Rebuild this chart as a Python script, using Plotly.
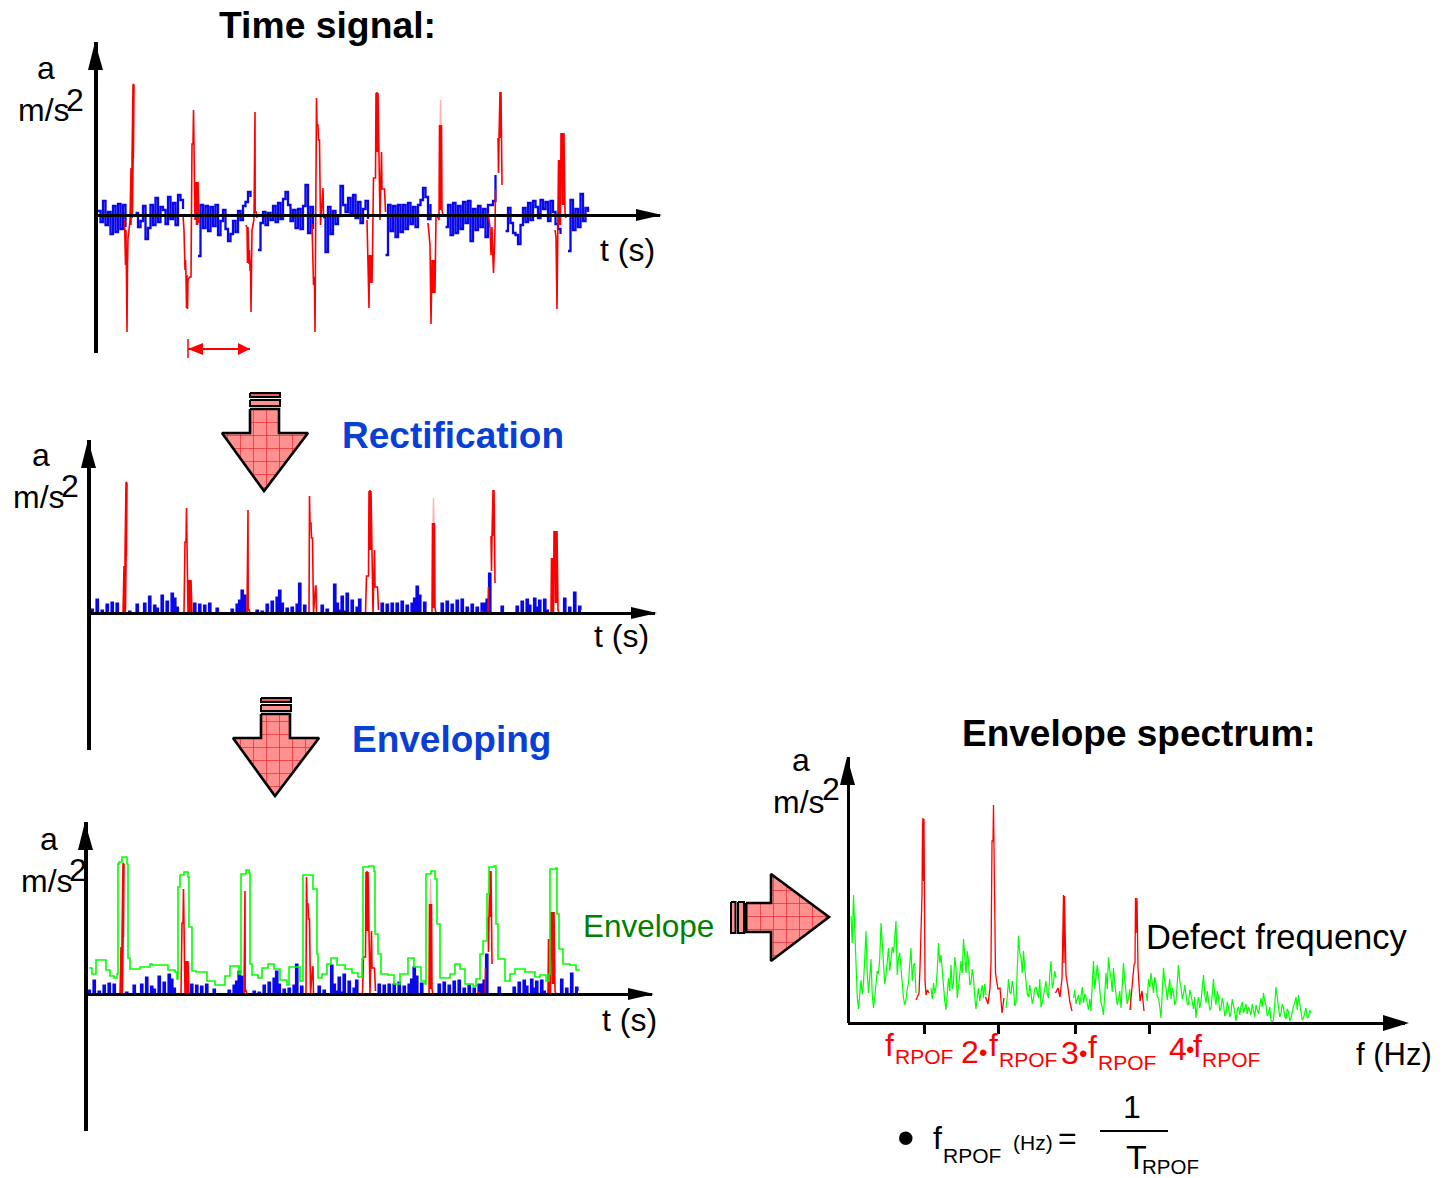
import numpy as np
import plotly.graph_objects as go

W, H = 1451, 1178
FONT = "Liberation Sans"

# Time signal: background noise sampled every 0.25 s from t = 0.2 (None = hidden by an impulse)
noise_a = [0.4,-0.7,1.4,-1.0,0.3,-1.9,0.9,-1.7,1.1,-1.4,1.0,-1.2,None,None,None,
           0.2,-1.2,-0.6,0.9,-2.4,-1.3,1.0,-1.0,1.7,-0.7,0.8,0.5,-0.9,1.8,-0.4,1.2,-1.0,2.0,1.5,0.6,
           None,None,None,None,None,-4.1,
           1.0,-1.3,0.9,-1.6,0.8,-1.1,1.0,-2.0,-0.6,0.5,-1.4,-2.6,-1.9,-0.6,-1.7,0.4,-0.5,0.9,1.3,2.3,
           1.8,None,None,-3.5,-0.8,0.3,-1.0,0.2,-0.5,0.9,-0.7,1.2,-0.4,1.6,2.3,1.0,-0.6,0.5,-1.3,0.6,
           -1.4,0.9,3.0,-1.8,0.8,-1.4,None,None,None,-0.2,-3.7,0.8,-1.9,0.4,-0.9,-0.1,2.9,1.0,0.3,1.7,
           0.2,2.0,-0.3,1.3,-0.8,0.6,1.4,-0.4,None,None,None,None,None,None,-4.0,1.0,-1.6,0.9,-2.2,
           1.0,-1.7,1.0,-1.4,1.2,-0.9,0.8,-1.2,1.0,1.5,2.7,1.8,-0.4,1.1,None,None,None,None,None,
           -1.2,1.0,-2.0,1.2,-1.8,0.9,-1.4,1.3,-0.8,1.4,-2.6,0.6,-1.5,0.9,-1.2,0.6,-2.2,1.0,1.0,1.4,4.0,
           None,None,None,-1.6,0.7,-0.8,-1.8,-2.0,-2.9,-1.0,0.7,-0.7,1.2,-0.5,1.4,0.8,-0.3,1.5,0.6,1.3,
           -0.6,1.4,0.3,-0.9,-1.4,-1.9,None,None,-3.6,1.5,-1.5,0.6,-1.2,2.1,-0.6,0.7,0.3]

# Time signal: bearing-fault impulses
impulse_t = [2.85,2.9,2.95,3.0,3.05,3.1,3.15,3.2,3.3,3.4,3.5,3.5,3.6,3.6,3.7,3.72,3.76,3.74,3.8,3.75,3.65,3.62,None,
             8.7,8.8,8.85,8.9,8.95,9.0,9.05,9.1,9.15,9.2,9.35,9.5,9.6,9.7,9.75,9.8,9.9,10.0,10.05,10.1,10.15,10.2,10.3,None,
             15.0,15.1,15.15,15.2,15.3,15.35,15.4,15.45,15.5,15.55,15.6,15.7,15.75,15.8,15.9,15.92,16.0,16.1,None,
             21.6,21.7,21.75,21.8,21.85,21.9,21.95,22.0,22.05,22.1,22.2,22.25,22.35,22.45,22.65,22.7,22.75,None,
             27.1,27.2,27.3,27.35,27.4,27.45,27.5,27.55,27.6,27.65,27.75,27.9,27.95,28.0,28.05,28.1,28.15,28.2,28.3,28.4,28.55,28.6,28.85,28.9,28.95,None,
             33.2,33.4,33.5,33.6,33.7,33.75,33.8,33.85,33.9,33.95,34.0,34.1,34.3,34.35,34.4,34.45,34.5,34.55,34.6,34.7,None,
             39.2,39.4,39.5,39.6,39.7,39.75,39.9,39.95,None,40.2,40.25,40.3,40.4,40.45,40.5,40.55,40.6,None,
             45.9,46.0,46.1,46.2,46.25,46.3,46.4,46.45,46.5,46.55,46.6,46.65,46.7,46.75,46.8,46.9,47.0]
impulse_a = [-0.5,-2,-5,-1.5,-4.8,-11.7,-5,-2.3,-1.5,-0.5,4.7,-1,4.7,5.6,13,5.7,13.1,5.7,13,5.6,0.5,-0.3,None,
             0,-1.5,-3.5,-5.5,-4.5,-6,-9.3,-6,-9.4,-6.5,-6.2,-6.2,7.1,7.1,10.5,7,-0.5,3.3,-1,3.3,-1,3.3,-0.8,None,
             -1.0,-1.3,-4.8,-1.2,-4.9,-3.5,-5.6,-4.5,-9.7,-5.0,-1.5,-1.0,-0.5,-0.3,10.3,0.2,0.4,-0.3,None,
             -0.9,-6.2,-7,-6.2,-7,-11.7,-3,0,11.7,9,9,7.5,7.5,-1,2.7,2.7,0,None,
             -0.5,-4,-9.3,-4,-6.8,-4,-6.8,-4,-6.8,-4,3.7,3.7,3.7,12.2,6.3,12.3,6.3,12.2,6.3,-0.5,6.3,2.6,2.6,0.5,0.3,None,
             -0.8,-3,-10.9,-4.5,-7.8,-4.5,-7.8,-4.5,-7.8,-4.5,0,0,-0.5,9,0.5,9,0.5,9,0.5,0,None,
             0.2,-1.2,-4,-1.2,-4.5,-5.8,-1.5,2.6,None,7.7,4.2,7.7,12.3,7.7,12.3,7.7,3,None,
             -1.5,-2.2,-9.4,-2.2,5.5,-1,5.5,-1,8.2,5.5,8.2,1,8.2,1,8.2,0.3,-0.3]
faint_t = [34.4,34.45,34.5]
faint_a = [9,11.5,9]

# Envelope of the rectified signal
envelope_t = [0.3,0.6,1.0,1.7,2.0,2.4,2.8,3.1,3.2,3.3,3.6,4.1,4.2,4.4,5.4,6.4,6.6,7.9,8.2,8.9,9.1,9.2,9.4,9.8,10.2,10.3,10.6,11.0,11.7,12.1,12.9,13.9,14.4,
              15.1,15.3,15.5,16.0,16.3,16.4,16.6,17.2,17.6,18.2,18.8,19.4,20.1,20.3,21.1,21.4,21.7,22.5,22.7,23.1,23.2,23.6,24.1,24.5,25.1,25.9,26.6,27.2,27.5,
              27.6,27.7,28.3,28.8,28.9,29.2,29.5,30.2,30.8,31.4,32.2,32.8,33.5,33.9,34.0,34.5,34.9,35.1,35.4,36.4,36.9,37.4,37.9,38.7,39.0,39.4,39.7,40.1,40.3,40.8,41.0,41.2,41.9,42.4,42.9,43.9,44.9,45.4,46.0,46.3,46.4,47.0,47.1,47.3,47.7,48.4,49.0,49.3]
envelope_a = [2.6,2.0,3.4,3.4,2.4,1.8,1.6,2.0,13.0,13.2,13.7,13.0,3.6,2.5,2.7,3.0,2.9,2.9,2.4,2.2,1.5,10.7,11.9,12.2,11.7,6.7,2.3,2.2,2.2,1.3,0.9,1.8,2.8,
              2.8,2.0,12.0,12.4,12.1,3.0,1.9,1.6,2.6,3.0,2.5,1.4,0.9,2.7,2.7,1.3,11.9,11.9,10.5,4.0,1.6,2.0,3.0,3.6,2.9,2.5,2.1,1.7,1.7,
              3.5,12.7,12.8,12.3,6.0,4.0,2.0,1.9,1.0,2.0,3.6,2.7,1.3,1.0,12.0,12.3,11.5,7.0,1.6,2.0,3.0,2.5,1.0,0.8,1.5,4.0,5.3,10.0,12.7,12.8,7.0,3.5,1.3,2.0,2.5,2.2,1.7,1.9,1.3,2.0,12.5,12.6,8.0,4.5,3.0,2.9,2.4,2.3]

# Envelope spectrum: broadband floor, two interleaved reads at 0.25 Hz spacing from f = 0.3
floor_a = [10.7,12.8,6.0,1.4,4.3,4.0,9.2,3.0,6.4,1.5,3.8,4.9,10.0,6.0,4.8,7.5,6.2,7.0,10.2,6.5,5.5,2.5,2.3,4.0,7.5,5.8,3.0,
           None,None,None,None,None,3.5,4.0,3.6,8.0,6.8,3.5,1.3,4.5,5.8,4.0,5.5,3.5,6.2,8.4,5.0,6.2,4.0,4.5,1.4,3.5,3.0,2.5,2.8,
           None,None,None,None,None,None,None,1.5,4.4,2.9,3.5,2.0,8.7,6.6,7.2,4.0,2.6,3.0,2.5,3.6,2.5,1.6,2.8,4.2,2.5,6.2,4.0,4.5,
           None,None,None,None,None,None,2.5,1.9,2.8,2.5,2.0,2.6,1.3,1.2,6.2,4.5,4.8,2.0,0.8,5.0,6.6,4.5,5.5,3.0,2.4,1.5,6.0,3.0,2.5,1.3,
           None,None,None,None,None,3.0,4.4,5.0,3.0,4.0,2.5,0.5,5.5,3.5,3.6,2.4,3.0,2.2,5.8,3.6,2.9,3.0,1.8,2.8,1.4,0.5,2.6,2.2,4.8,2.0,2.4,
           1.4,4.4,1.8,2.6,1.5,1.9,1.0,1.6,1.0,1.9,0.2,1.6,1.7,1.0,1.9,1.6,0.8,1.3,1.8,0.9,2.5,3.0,1.8,1.0,0.2,0.3,3.6,1.8,1.0,1.5,0.4,1.1,0.5,1.7,2.6,2.8,1.0,0.5,1.5,0.6,1.0]
floor_mid_a = [8.0,9.5,2.6,3.2,2.9,6.5,5.0,4.6,2.8,2.6,5.2,6.5,7.8,3.9,6.3,5.2,7.6,8.3,4.8,7.0,3.6,1.8,3.4,5.9,4.2,6.0,None,
               None,None,None,None,None,2.4,3.0,5.2,6.0,5.0,2.2,3.0,3.2,3.4,6.6,2.5,4.8,5.0,6.5,7.2,3.8,5.4,2.6,2.6,2.2,3.8,3.9,None,
               None,None,None,None,None,None,None,2.6,3.1,4.2,1.7,5.6,7.0,5.0,5.5,2.9,3.8,1.9,3.4,3.1,4.4,2.0,3.6,2.9,4.8,3.5,5.2,None,
               None,None,None,None,None,None,3.3,2.4,1.8,3.6,2.9,1.8,2.4,3.9,3.4,5.8,3.1,1.6,2.9,3.4,5.3,3.1,4.0,1.8,3.2,3.8,4.3,1.9,3.4,None,
               None,None,None,None,None,2.2,3.6,3.9,4.6,2.6,1.6,3.1,4.1,2.3,4.4,3.5,1.8,4.0,4.2,2.4,3.8,1.9,3.3,2.0,2.6,1.9,1.5,3.5,2.9,3.2,1.3,
               3.1,2.7,3.2,1.2,2.5,0.7,2.1,0.6,2.4,1.1,1.3,0.8,2.1,1.5,0.9,1.2,1.9,0.6,1.4,1.7,1.6,2.2,0.7,1.6,0.1,1.9,2.6,0.6,1.9,0.7,1.4,0.2,1.3,2.0,1.3,1.9,0.3,1.2,0.5,1.3,None]
harmonic_f = [6.8,7.1,7.2,7.4,7.45,7.5,7.55,7.6,7.7,7.8,7.95,8.1,None,
              13.75,14.0,14.2,14.3,14.4,14.5,14.55,14.6,14.65,14.75,14.9,15.0,15.2,15.4,15.6,None,
              20.75,21.0,21.2,21.4,21.55,21.6,21.65,21.8,22.0,22.2,22.4,None,
              28.2,28.4,28.6,28.7,28.75,28.8,28.9,29.0,29.2,29.4,29.6]
harmonic_a = [2.3,3.0,5.5,12.8,19.7,20.5,14.2,20.4,4.3,2.8,3.3,3.0,None,
              2.6,1.9,3.5,6.0,18.2,18.2,21.8,16.3,16.3,5.0,4.0,3.4,3.5,1.0,2.5,None,
              3.0,3.5,2.6,4.5,12.8,6.0,12.7,4.8,3.5,2.0,1.2,None,
              1.3,3.4,5.8,6.0,12.5,9.0,12.5,5.5,2.2,3.2,1.2]
harmonic_ticks = [7.6, 15.0, 22.7, 30.1]

noise = np.array(noise_a, dtype=float)
noise_t = 0.2 + 0.25 * np.arange(len(noise))
imp_t = np.array(impulse_t, dtype=float)
imp_a = np.array(impulse_a, dtype=float)
floor = np.empty(len(floor_a) * 2)
floor[0::2] = np.array(floor_a, dtype=float)
floor[1::2] = np.array(floor_mid_a, dtype=float)
floor_f = 0.3 + 0.125 * np.arange(len(floor))

BLUE, RED, GREEN = "#0808e8", "#ff0000", "#00ff00"
fig = go.Figure()

PANELS = {
    "1": dict(x0=96, x1=660, top=42, zero=215, bottom=353, wy=3.5, wx=2.5),
    "2": dict(x0=89, x1=655, top=440, zero=613, bottom=750, wy=3.5, wx=2.5),
    "3": dict(x0=86, x1=652, top=822, zero=994, bottom=1131, wy=3.5, wx=2.5),
    "4": dict(x0=848, x1=1405, top=757, zero=1023, bottom=1023, wy=3, wx=3),
}
layout = {}
for k, p in PANELS.items():
    sx = "" if k == "1" else k
    layout[f"xaxis{sx}"] = dict(
        domain=[p["x0"] / W, p["x1"] / W], range=[0, (p["x1"] - p["x0"]) / 10],
        anchor="free", position=1 - p["zero"] / H, showline=True, linecolor="black",
        linewidth=p["wx"], showgrid=False, zeroline=False, showticklabels=False,
        ticks="", layer="above traces")
    layout[f"yaxis{sx}"] = dict(
        domain=[1 - p["bottom"] / H, 1 - p["top"] / H],
        range=[(p["zero"] - p["bottom"]) / 10, (p["zero"] - p["top"]) / 10],
        anchor="free", position=p["x0"] / W, showline=True, linecolor="black",
        linewidth=p["wy"], showgrid=False, zeroline=False, showticklabels=False,
        ticks="", layer="above traces")
layout["xaxis4"].update(tickvals=harmonic_ticks, ticks="outside", ticklen=9, tickwidth=2.5,
                        tickcolor="black", side="bottom")
# full-page overlay for the diagram furniture
layout["xaxis5"] = dict(domain=[0, 1], range=[0, W], visible=False, anchor="y5", fixedrange=True)
layout["yaxis5"] = dict(domain=[0, 1], range=[H, 0], visible=False, anchor="x5", fixedrange=True)


def line(x, y, color, width, ax, shape="linear", fill=None):
    s = "" if ax == "1" else ax
    fig.add_trace(go.Scatter(x=x, y=y, mode="lines", line=dict(color=color, width=width, shape=shape),
                             fill=fill, fillcolor=color if fill else None,
                             xaxis=f"x{s}", yaxis=f"y{s}", showlegend=False, hoverinfo="skip"))


# Time signal
line(noise_t, noise, BLUE, 2.3, "1", "hv")
line(imp_t, imp_a, RED, 1.6, "1")
line(faint_t, faint_a, "#ffb0b0", 1.3, "1")
# Rectified (half wave) and enveloped
rectified_noise = np.nan_to_num(np.clip(noise, 0, None))
for ax in ("2", "3"):
    line(noise_t, rectified_noise, BLUE, 1.2, ax, "hv", "tozeroy")
    line(imp_t, np.clip(imp_a, 0, None), RED, 1.6, ax)
    line(faint_t, faint_a, "#ffb0b0", 1.3, ax)
line(envelope_t, envelope_a, GREEN, 1.6, "3", "hv")
# Spectrum
line(floor_f, floor, GREEN, 1.2, "4")
line(harmonic_f, harmonic_a, RED, 1.3, "4")

HATCH = dict(shape="+", size=13, solidity=0.1, fgcolor="#e8202c", fgopacity=1, bgcolor="#ff9090")


def poly(pts, fill="black", outline=None, w=0, pattern=None):
    xs = [q[0] for q in pts] + [pts[0][0]]
    ys = [q[1] for q in pts] + [pts[0][1]]
    fig.add_trace(go.Scatter(x=xs, y=ys, mode="lines", fill="toself", fillcolor=fill,
                             fillpattern=pattern, line=dict(color=outline or fill, width=w),
                             xaxis="x5", yaxis="y5", showlegend=False, hoverinfo="skip"))


def down_arrow(dx, dy):
    o = lambda pts: [(a + dx, b + dy) for a, b in pts]
    poly(o([(250, 393), (280, 393), (280, 397), (250, 397)]), "#e06060", "black", 2)
    poly(o([(250, 400), (280, 400), (280, 406), (250, 406)]), "#ff9090", "black", 2)
    poly(o([(250, 409), (279, 409), (279, 433), (308, 433), (264, 491), (222, 433), (250, 433)]),
         "#ff9090", "black", 2.6, HATCH)


down_arrow(0, 0)
down_arrow(11, 305)
poly([(731, 902), (735.5, 902), (735.5, 933), (731, 933)], "#ff9090", "black", 2)
poly([(738, 902), (744, 902), (744, 933), (738, 933)], "#ff9090", "black", 2)
poly([(746, 903), (771, 903), (771, 874), (829, 917), (771, 961), (771, 932), (746, 932)],
     "#ff9090", "black", 2.6, HATCH)

# Axis arrowheads
for k, p in PANELS.items():
    x0, z, t, xe = p["x0"], p["zero"], p["top"], p["x1"]
    poly([(x0 - 1, t), (x0 + 7, t + 28), (x0 - 8, t + 28)])
    if k == "4":
        poly([(xe + 4, z), (xe - 22, z - 8), (xe - 22, z + 8)])
    else:
        poly([(xe + 2, z), (xe - 24, z - 6), (xe - 24, z + 6)])

# Period arrow (red)
fig.add_trace(go.Scatter(x=[188, 250], y=[349, 349], mode="lines", line=dict(color=RED, width=2),
                         xaxis="x5", yaxis="y5", showlegend=False, hoverinfo="skip"))
fig.add_trace(go.Scatter(x=[188, 188], y=[339, 358], mode="lines", line=dict(color=RED, width=1.5),
                         xaxis="x5", yaxis="y5", showlegend=False, hoverinfo="skip"))
poly([(188, 349), (203, 343), (203, 355)], RED)
poly([(250, 349), (238, 343), (238, 355)], RED)
# Fraction bar
fig.add_trace(go.Scatter(x=[1100, 1168], y=[1131, 1131], mode="lines", line=dict(color="black", width=2),
                         xaxis="x5", yaxis="y5", showlegend=False, hoverinfo="skip"))

TXT = [
    ("Time signal:", 219, 25, 37.3, "black", True),
    ("Rectification", 342, 435, 37, "#0a3fd6", True),
    ("Enveloping", 352, 739, 37, "#0a3fd6", True),
    ("Envelope spectrum:", 962, 733, 37, "black", True),
    ("a", 37, 67.5, 32, "black", False), ("m/s", 18, 110, 32, "black", False), ("2", 66, 100, 32, "black", False),
    ("a", 32, 454.5, 32, "black", False), ("m/s", 13, 497, 32, "black", False), ("2", 61, 486, 32, "black", False),
    ("a", 40, 838.5, 32, "black", False), ("m/s", 21, 881, 32, "black", False), ("2", 69, 870, 32, "black", False),
    ("a", 792, 759.5, 32, "black", False), ("m/s", 773, 802, 32, "black", False), ("2", 822, 789, 32, "black", False),
    ("t (s)", 600, 249.5, 32, "black", False), ("t (s)", 594, 635.5, 32, "black", False), ("t (s)", 602, 1019.5, 32, "black", False),
    ("Envelope", 583, 926, 31.5, "#008000", False),
    ("Defect frequency", 1146, 937, 34.5, "black", False),
    ("f (Hz)", 1356, 1054, 31, "black", False),
    ("f", 885, 1045, 32, RED, False), ("RPOF", 895, 1056, 21, RED, False),
    ("2", 961, 1052, 32, RED, False), ("•", 979, 1052, 24, RED, False), ("f", 989, 1045, 32, RED, False), ("RPOF", 999, 1059, 21, RED, False),
    ("3", 1061, 1053, 32, RED, False), ("•", 1079, 1053, 24, RED, False), ("f", 1088, 1047, 32, RED, False), ("RPOF", 1098, 1062, 21, RED, False),
    ("4", 1169, 1049, 32, RED, False), ("•", 1186, 1049, 24, RED, False), ("f", 1193, 1046, 32, RED, False), ("RPOF", 1202, 1059, 21, RED, False),
    ("•", 897, 1138, 50, "black", False),
    ("f", 933, 1138, 32, "black", False), ("RPOF", 943, 1155, 21, "black", False),
    ("(Hz)", 1013, 1142, 21, "black", False), ("=", 1058, 1138, 32, "black", False),
    ("1", 1123, 1107, 32, "black", False),
    ("T", 1126, 1157, 34, "black", False), ("RPOF", 1142, 1166, 20.5, "black", False),
]
annotations = [dict(text=f"<b>{s}</b>" if b else s, x=x - 0.8, y=y, xref="x5", yref="y5", xanchor="left",
                    yanchor="middle", showarrow=False, borderpad=0,
                    font=dict(family=FONT, size=z, color=c)) for s, x, y, z, c, b in TXT]

fig.update_layout(width=W, height=H, autosize=False, margin=dict(l=0, r=0, t=0, b=0),
                  paper_bgcolor="white", plot_bgcolor="rgba(0,0,0,0)", showlegend=False,
                  hovermode=False, annotations=annotations, **layout)
fig.write_html("out.html", config=dict(displayModeBar=False),
               post_script="document.body.style.margin='0';document.body.style.overflow='hidden';")
